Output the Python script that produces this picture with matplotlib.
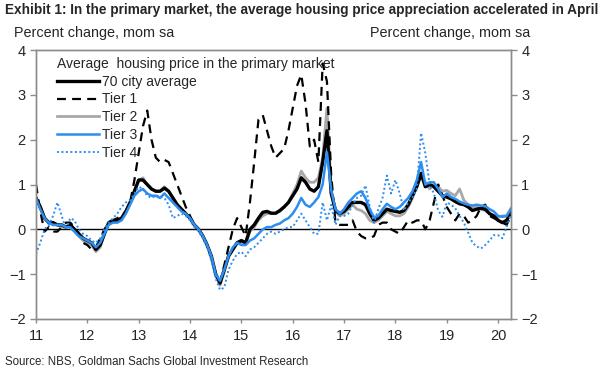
import numpy as np
import matplotlib
matplotlib.use("Agg")
from matplotlib import pyplot as plt

plt.rcParams['font.family'] = ['Liberation Sans', 'DejaVu Sans']

# monthly data, Jan 2011 - Apr 2020 (percent change, mom sa)
city70 = [0.7, 0.5, 0.25, 0.15, 0.15, 0.1, 0.1, 0.05, 0.1, 0.0, -0.1, -0.2,
          -0.25, -0.3, -0.45, -0.35, -0.1, 0.15, 0.2, 0.2, 0.25, 0.4, 0.6, 0.85,
          1.1, 1.1, 1.0, 0.9, 0.85, 0.85, 0.92, 0.85, 0.7, 0.55, 0.45, 0.35,
          0.25, 0.1, 0.0, -0.15, -0.35, -0.6, -1.0, -1.2, -0.9, -0.6, -0.45, -0.3,
          -0.25, -0.3, 0.0, 0.1, 0.25, 0.38, 0.4, 0.36, 0.36, 0.42, 0.5, 0.6,
          0.75, 0.9, 1.15, 1.05, 0.9, 0.85, 0.95, 1.5, 2.2, 0.8, 0.42, 0.35,
          0.4, 0.5, 0.6, 0.6, 0.6, 0.55, 0.35, 0.2, 0.25, 0.35, 0.45, 0.42,
          0.4, 0.38, 0.42, 0.55, 0.75, 0.95, 1.25, 0.95, 1.0, 0.95, 0.85, 0.75,
          0.72, 0.68, 0.62, 0.57, 0.55, 0.5, 0.42, 0.45, 0.47, 0.45, 0.35, 0.3,
          0.2, 0.15, 0.2, 0.38]
tier1 = [1.0, 0.4, -0.05, 0.05, -0.05, -0.05, 0.05, 0.15, 0.15, 0.05, -0.1, -0.3,
         -0.35, -0.45, -0.4, -0.2, 0.0, 0.15, 0.2, 0.25, 0.3, 0.4, 0.6, 1.1,
         1.7, 2.3, 2.65, 2.0, 1.6, 1.5, 1.55, 1.5, 1.25, 1.0, 0.75, 0.5,
         0.3, 0.1, 0.0, -0.15, -0.35, -0.6, -1.0, -1.2, -0.8, -0.4, 0.0, 0.25,
         0.05, -0.15, 0.6, 1.5, 2.45, 2.55, 2.2, 1.85, 1.6, 1.7, 1.8, 2.2,
         2.7, 3.2, 3.45, 2.8, 1.85, 2.0, 1.5, 3.7, 3.3, 1.2, 0.15, 0.1,
         0.1, 0.1, 0.2, -0.05, -0.15, -0.2, -0.2, -0.15, 0.1, 0.15, 0.15, 0.0,
         -0.05, -0.1, 0.05, 0.2, 0.15, 0.2, 0.2, 0.0, 0.2, 0.6, 1.0, 0.75,
         0.5, 0.35, 0.2, 0.35, 0.3, 0.15, 0.2, 0.3, 0.5, 0.55, 0.3, 0.25,
         0.2, 0.15, 0.1, 0.3]
tier2 = [0.7, 0.5, 0.25, 0.15, 0.1, 0.1, 0.05, 0.05, 0.05, -0.05, -0.15, -0.25,
         -0.3, -0.35, -0.5, -0.4, -0.1, 0.15, 0.2, 0.2, 0.25, 0.4, 0.6, 0.85,
         1.1, 1.15, 1.0, 0.9, 0.85, 0.85, 0.95, 0.85, 0.7, 0.55, 0.45, 0.35,
         0.25, 0.1, 0.0, -0.15, -0.35, -0.65, -1.0, -1.25, -0.95, -0.6, -0.45, -0.3,
         -0.3, -0.3, -0.05, 0.05, 0.2, 0.3, 0.35, 0.35, 0.35, 0.4, 0.5, 0.6,
         0.8, 1.0, 1.3, 1.15, 1.05, 1.05, 1.15, 1.6, 2.7, 0.9, 0.4, 0.3,
         0.35, 0.45, 0.55, 0.45, 0.42, 0.35, 0.2, 0.15, 0.2, 0.3, 0.4, 0.35,
         0.3, 0.3, 0.35, 0.5, 0.7, 1.0, 1.15, 1.05, 0.9, 1.0, 0.95, 0.85,
         0.87, 0.8, 0.75, 0.9, 0.65, 0.55, 0.5, 0.5, 0.45, 0.42, 0.35, 0.3,
         0.27, 0.3, 0.3, 0.47]
tier3 = [0.7, 0.45, 0.25, 0.15, 0.1, 0.1, 0.1, 0.05, 0.05, -0.05, -0.15, -0.2,
         -0.25, -0.3, -0.4, -0.3, -0.1, 0.1, 0.15, 0.15, 0.2, 0.35, 0.55, 0.75,
         0.85, 0.9, 0.8, 0.75, 0.75, 0.7, 0.8, 0.7, 0.6, 0.5, 0.4, 0.35,
         0.25, 0.1, 0.0, -0.15, -0.35, -0.6, -1.0, -1.15, -0.9, -0.6, -0.4, -0.3,
         -0.35, -0.35, -0.25, -0.2, -0.1, 0.0, 0.05, 0.05, 0.1, 0.13, 0.2, 0.25,
         0.35, 0.5, 0.7, 0.55, 0.5, 0.6, 0.72, 1.0, 1.72, 0.87, 0.45, 0.35,
         0.45, 0.6, 0.7, 0.8, 0.85, 0.7, 0.45, 0.27, 0.3, 0.45, 0.57, 0.5,
         0.45, 0.5, 0.6, 0.7, 0.85, 1.1, 1.5, 1.0, 1.05, 1.05, 0.9, 0.72,
         0.8, 0.72, 0.68, 0.62, 0.58, 0.55, 0.53, 0.55, 0.53, 0.52, 0.45, 0.4,
         0.3, 0.28, 0.3, 0.45]
tier4 = [-0.55, -0.3, 0.0, 0.1, 0.3, 0.6, 0.3, 0.0, 0.25, 0.2, 0.0, -0.1,
         -0.15, -0.25, -0.3, -0.2, 0.0, 0.15, 0.25, 0.35, 0.5, 0.6, 0.65, 0.8,
         0.95, 0.9, 0.75, 0.7, 0.75, 0.75, 0.7, 0.55, 0.25, 0.3, 0.35, 0.3,
         0.2, 0.05, -0.05, -0.2, -0.4, -0.7, -1.1, -1.35, -1.3, -0.9, -0.7, -0.55,
         -0.5, -0.6, -0.45, -0.4, -0.3, -0.2, -0.1, -0.05, -0.1, -0.05, 0.0, 0.05,
         0.05, 0.2, 0.35, 0.2, 0.05, -0.1, -0.1, 0.6, 0.2, 0.55, 0.1, 0.3,
         0.3, 0.35, 0.55, 0.7, 0.75, 0.98, 0.5, 0.15, 0.45, 0.7, 1.2, 0.8,
         1.1, 0.8, 0.42, 0.6, 0.72, 0.9, 2.15, 1.7, 1.0, 0.8, 0.42, 0.28,
         0.6, 0.55, 0.47, 0.3, 0.15, -0.07, -0.3, -0.38, -0.43, -0.35, -0.25, -0.13,
         -0.13, -0.2, 0.05, 0.35]

x = 2011 + np.arange(len(city70)) / 12.0
year_ticks = list(range(2011, 2021))
year_labels = [str(y)[2:] for y in year_ticks]
y_ticks = [-2, -1, 0, 1, 2, 3, 4]

blue = '#2b8ef0'
grey = '#a8a8a8'
spine = '#8c8c8c'
txt = '#262626'

fig = plt.figure(figsize=(6.05, 3.72), dpi=100)
ax = fig.add_axes([0.0595, 0.1425, 0.785, 0.723])

ax.axhline(0, color='black', lw=1.0, zorder=1)
ax.plot(x, tier2, color=grey, lw=2.0, label='Tier 2', zorder=2)
ax.plot(x, city70, color='black', lw=2.4, label='70 city average', zorder=3)
ax.plot(x, tier1, color='black', lw=1.6, ls=(0, (4, 2.8)), label='Tier 1', zorder=4)
ax.plot(x, tier3, color=blue, lw=1.8, label='Tier 3', zorder=5)
ax.plot(x, tier4, color=blue, lw=1.4, ls=(0, (1, 1.3)), label='Tier 4', zorder=6)

ax.set_xlim(2011, 2011 + (len(city70) - 1) / 12.0)
ax.set_ylim(-2, 4)
ax.set_xticks(year_ticks)
ax.set_xticklabels(year_labels)
ax.set_yticks(y_ticks)

ax2 = ax.twinx()
ax2.set_ylim(-2, 4)
ax2.set_yticks(y_ticks)

for a in (ax, ax2):
    for s in a.spines.values():
        s.set_color(spine)
        s.set_linewidth(1.0)
    a.tick_params(colors=spine, labelcolor=txt, labelsize=10.5, length=4, width=1.0)
ax.tick_params(axis='x', length=3, pad=4)

order = ['70 city average', 'Tier 1', 'Tier 2', 'Tier 3', 'Tier 4']
h, l = ax.get_legend_handles_labels()
hd = dict(zip(l, h))
leg = ax.legend([hd[k] for k in order], order, loc='upper left',
                title='Average  housing price in the primary market',
                frameon=False, fontsize=10, title_fontsize=10,
                handlelength=3.0, handletextpad=0.25, labelspacing=0.27,
                borderaxespad=0.0, borderpad=0.5, bbox_to_anchor=(0.03, 1.0))
leg._legend_box.align = 'left'
for t in leg.get_texts():
    t.set_color(txt)
leg.get_title().set_color(txt)

fig.text(0.008, 0.972, 'Exhibit 1: In the primary market, the average housing price appreciation accelerated in April',
         fontsize=9.8, fontweight='bold', color=txt, va='center', ha='left')
fig.text(0.023, 0.9, 'Percent change, mom sa', fontsize=10.4, color=txt, va='baseline', ha='left')
fig.text(0.876, 0.9, 'Percent change, mom sa', fontsize=10.4, color=txt, va='baseline', ha='right')
fig.text(0.008, 0.027, 'Source: NBS, Goldman Sachs Global Investment Research',
         fontsize=8.3, color=txt, va='center', ha='left')

fig.savefig('out.png', dpi=100)
